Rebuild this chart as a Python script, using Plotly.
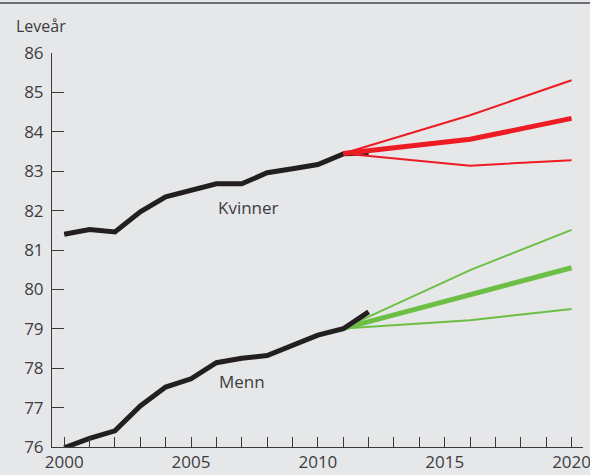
import plotly.graph_objects as go

years = list(range(2000, 2013))
kvinner = [81.40, 81.52, 81.46, 81.97, 82.35, 82.52, 82.68, 82.68, 82.96, 83.06, 83.17, 83.44, 83.46]
menn = [75.98, 76.22, 76.41, 77.04, 77.52, 77.73, 78.14, 78.25, 78.32, 78.59, 78.84, 79.00, 79.43]

proj_years = [2011, 2016, 2020]
kv_high = [83.45, 84.42, 85.31]
kv_mid = [83.45, 83.81, 84.34]
kv_low = [83.45, 83.14, 83.28]
me_high = [79.01, 80.49, 81.51]
me_mid = [79.01, 79.85, 80.55]
me_low = [79.01, 79.22, 79.50]

BLACK = "#231f20"
RED = "#ed1c24"
GREEN = "#6cbf44"
BG = "#e6e7e9"
TXT = "#3d3d3f"
FONT = "Open Sans"

fig = go.Figure()
fig.add_trace(go.Scatter(x=years, y=kvinner, mode="lines", line=dict(color=BLACK, width=5)))
for ys, w in [(kv_high, 2), (kv_low, 2), (kv_mid, 5)]:
    fig.add_trace(go.Scatter(x=proj_years, y=ys, mode="lines", line=dict(color=RED, width=w)))
for ys, w in [(me_high, 2), (me_low, 2), (me_mid, 5)]:
    fig.add_trace(go.Scatter(x=proj_years, y=ys, mode="lines", line=dict(color=GREEN, width=w)))
fig.add_trace(go.Scatter(x=years, y=menn, mode="lines", line=dict(color=BLACK, width=5)))

fig.add_annotation(x=2007.28, y=82.09, text="Kvinner", showarrow=False,
                   font=dict(family=FONT, size=17, color=TXT))
fig.add_annotation(x=2007.02, y=77.66, text="Menn", showarrow=False,
                   font=dict(family=FONT, size=17, color=TXT))
fig.add_annotation(x=-0.0716, y=1.0685, xref="paper", yref="paper", text="Leveår",
                   showarrow=False, xanchor="left", yanchor="middle",
                   font=dict(family=FONT, size=16, color=TXT))

fig.add_shape(type="line", xref="paper", yref="paper", x0=-0.2, x1=1.2, y0=1.127, y1=1.127,
              line=dict(color="#6d6e71", width=2))

fig.update_layout(
    width=590, height=475,
    margin=dict(l=52, r=7, t=53, b=28, autoexpand=False),
    paper_bgcolor=BG, plot_bgcolor=BG,
    showlegend=False,
    font=dict(family=FONT, size=17, color=TXT),
)
fig.update_xaxes(
    range=[1999.52, 2020.45], tick0=2000, dtick=5, ticks="inside", ticklen=10,
    tickcolor="#3a3a3a", tickwidth=1,
    showline=True, linecolor="#3a3a3a", linewidth=1,
    showgrid=False, zeroline=False, ticklabeloverflow="allow", automargin=False,
    minor=dict(dtick=1, ticks="inside", ticklen=10, tickcolor="#3a3a3a", tickwidth=1),
    tickfont=dict(family=FONT, size=17, color=TXT),
)
fig.update_yaxes(
    range=[76, 86], dtick=1, ticks="inside", ticklen=12,
    tickcolor="#3a3a3a", tickwidth=1,
    showline=True, linecolor="#3a3a3a", linewidth=1,
    showgrid=False, zeroline=False, ticklabelstandoff=4, automargin=False,
    tickfont=dict(family=FONT, size=17, color=TXT),
)

fig.write_html(
    "out.html",
    config={"displayModeBar": False},
    post_script="document.body.style.margin='0';document.body.style.background='#e6e7e9';",
)
